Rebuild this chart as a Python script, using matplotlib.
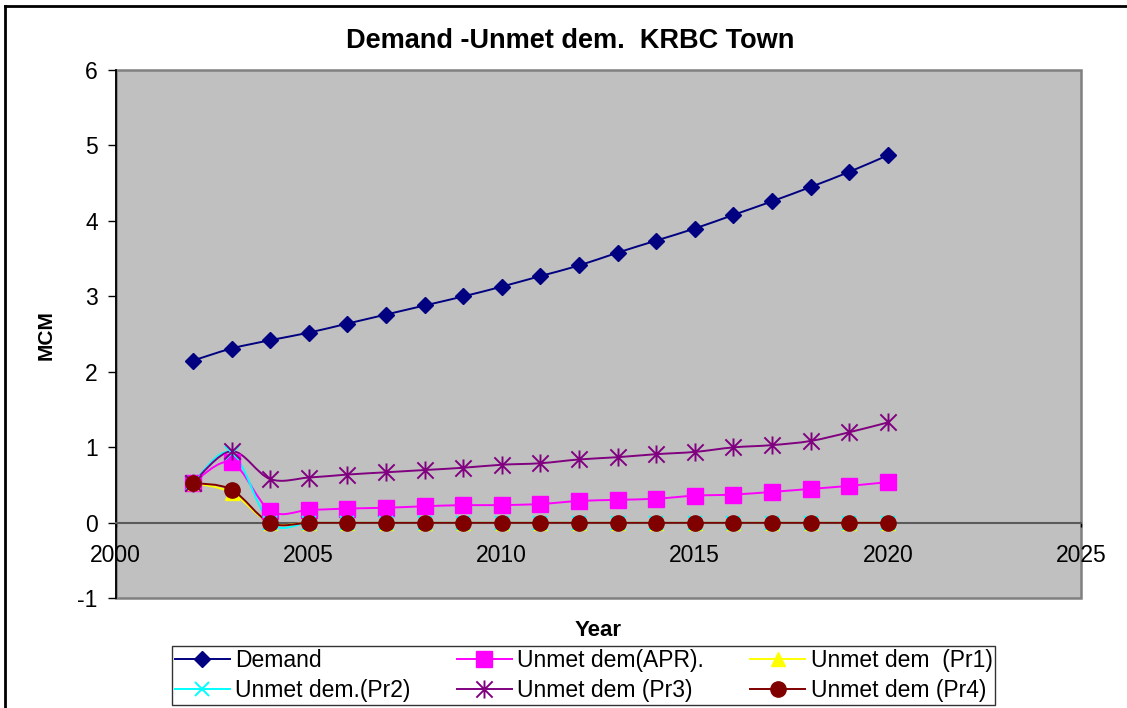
import matplotlib

matplotlib.use("Agg")
import matplotlib.pyplot as plt
import numpy as np
from matplotlib.lines import Line2D
from matplotlib.patches import PathPatch, Rectangle
from matplotlib.path import Path

plt.rcParams["font.family"] = ["Liberation Sans", "DejaVu Sans"]
plt.rcParams["axes.unicode_minus"] = False

years = list(range(2002, 2021))
demand = [2.15, 2.31, 2.42, 2.52, 2.64, 2.76, 2.88, 3.00, 3.13, 3.27,
          3.41, 3.58, 3.74, 3.90, 4.08, 4.26, 4.45, 4.65, 4.87]
unmet_apr = [0.53, 0.80, 0.16, 0.17, 0.19, 0.20, 0.22, 0.235, 0.235, 0.25,
             0.29, 0.305, 0.32, 0.36, 0.375, 0.41, 0.45, 0.49, 0.54]
unmet_pr1 = [0.53, 0.40] + [0.0] * 17
unmet_pr2 = [0.53, 0.93] + [0.0] * 17
unmet_pr3 = [0.53, 0.95, 0.58, 0.60, 0.64, 0.67, 0.70, 0.73, 0.77, 0.79,
             0.84, 0.87, 0.91, 0.94, 1.00, 1.03, 1.085, 1.20, 1.33]
unmet_pr4 = [0.53, 0.44] + [0.0] * 17

# Excel-style asterisk marker: vertical bar plus an x
star_path = Path(
    [(0, -1), (0, 1), (-0.9, -0.9), (0.9, 0.9), (-0.9, 0.9), (0.9, -0.9)],
    [Path.MOVETO, Path.LINETO] * 3,
)

series = [
    ("Demand", demand, "#000080", "D", 8.5),
    ("Unmet dem(APR).", unmet_apr, "#FF00FF", "s", 11),
    ("Unmet dem  (Pr1)", unmet_pr1, "#FFFF00", "^", 10),
    ("Unmet dem.(Pr2)", unmet_pr2, "#00FFFF", "x", 10),
    ("Unmet dem (Pr3)", unmet_pr3, "#800080", star_path, 13),
    ("Unmet dem (Pr4)", unmet_pr4, "#800000", "o", 11),
]


def smooth_path(x, y):
    # cubic Bezier through the points, like Excel's "smoothed line"
    pts = np.column_stack([x, y]).astype(float)
    n = len(pts)
    verts = [pts[0]]
    codes = [Path.MOVETO]
    for i in range(n - 1):
        p0 = pts[i - 1] if i > 0 else pts[i]
        p1, p2 = pts[i], pts[i + 1]
        p3 = pts[i + 2] if i + 2 < n else pts[i + 1]
        verts += [p1 + (p2 - p0) / 6, p2 - (p3 - p1) / 6, p2]
        codes += [Path.CURVE4] * 3
    return Path(verts, codes)


fig = plt.figure(figsize=(11.27, 7.08), dpi=100)
ax = fig.add_axes([0.1027, 0.1549, 0.8563, 0.7462])
ax.set_facecolor("#C0C0C0")

handles = []
for label, vals, color, marker, ms in series:
    ax.add_patch(PathPatch(smooth_path(years, vals), facecolor="none",
                           edgecolor=color, lw=1.4, zorder=3))
    mew = 1.4 if (marker == "x" or marker is star_path) else 1.0
    ax.plot(years, vals, linestyle="none", marker=marker, ms=ms,
            color=color, mec=color, mew=mew, zorder=4)
    handles.append(Line2D([], [], color=color, lw=1.4, marker=marker, ms=ms,
                          mec=color, mfc=color, mew=mew, label=label))

ax.set_xlim(2000, 2025)
ax.set_ylim(-1, 6)
ax.set_xticks([2000, 2005, 2010, 2015, 2020, 2025])
ax.set_yticks(range(-1, 7))

ax.spines["top"].set_visible(False)
ax.spines["right"].set_visible(False)
ax.spines["bottom"].set_position(("data", 0))
ax.spines["bottom"].set_color("#5a5a5a")
ax.spines["bottom"].set_linewidth(1.5)
ax.spines["left"].set_color("black")
ax.spines["left"].set_linewidth(1.3)
ax.add_patch(Rectangle((0, 0), 1, 1, transform=ax.transAxes, fill=False,
                       edgecolor="#808080", lw=1.8, zorder=1, clip_on=False))

ax.tick_params(axis="y", direction="out", length=6, width=1, pad=7,
               labelsize=16.5, color="black")
ax.tick_params(axis="x", direction="out", length=3, width=1, pad=12,
               labelsize=16.5, color="black")

fig.text(570 / 1127, 1 - 41 / 708, "Demand -Unmet dem.  KRBC Town",
         ha="center", va="center", fontsize=19.5, fontweight="bold")
fig.text(46 / 1127, 1 - 335 / 708, "MCM", rotation=90, ha="center",
         va="center", fontsize=15, fontweight="bold")
fig.text(598 / 1127, 1 - 630 / 708, "Year", ha="center", va="center",
         fontsize=16, fontweight="bold")

order = [0, 3, 1, 4, 2, 5]
leg = fig.legend([handles[i] for i in order], [handles[i].get_label() for i in order],
                 ncol=3, bbox_to_anchor=(172 / 1127, 3 / 708),
                 loc="lower left", fontsize=16.5, frameon=True, fancybox=False,
                 edgecolor="black", handlelength=2.4, handletextpad=0.25,
                 borderpad=0.12, labelspacing=0.32, borderaxespad=0,
                 columnspacing=2.0)
leg.get_frame().set_linewidth(1.0)

# chart-area border (left and top edges visible in the crop)
fig.add_artist(Line2D([5 / 1127, 5 / 1127], [0, 1 - 6 / 708], color="black",
                      lw=2, transform=fig.transFigure))
fig.add_artist(Line2D([5 / 1127, 1], [1 - 6 / 708, 1 - 6 / 708], color="black",
                      lw=2, transform=fig.transFigure))

fig.savefig("out.png", dpi=100)
